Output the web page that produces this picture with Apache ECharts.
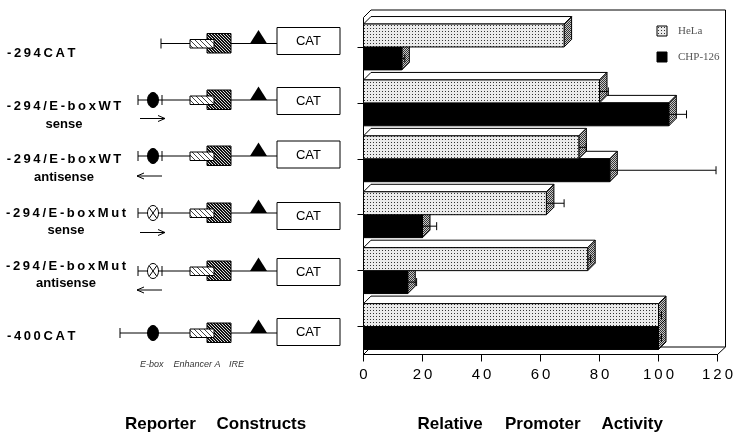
<!DOCTYPE html>
<html>
<head>
<meta charset="utf-8">
<script src="https://cdn.jsdelivr.net/npm/echarts@6/dist/echarts.min.js"></script>
<style>
  html, body { margin: 0; padding: 0; background: #fff; }
  #chart { width: 739px; height: 441px; }
</style>
</head>
<body>
<div id="chart"></div>
<script>
// data
const constructs = ['-294CAT', '-294/E-boxWT\nsense', '-294/E-boxWT\nantisense', '-294/E-boxMut\nsense', '-294/E-boxMut\nantisense', '-400CAT']
const helaValues = [68, 80, 73, 62, 76, 100]
const helaErrors = [0, 3, 2.5, 6, 1, 1]
const chpValues = [13, 103.5, 83.5, 20, 15, 100]
const chpErrors = [1, 6, 36, 4.8, 3, 1]
const seriesNames = ['HeLa', 'CHP-126']
const axisMin = 0
const axisMax = 120
const axisStep = 20

// schematic layout (left panel)
const eboxKind = ['none', 'wt', 'wt', 'mut', 'mut', 'wt']
const arrowKind = ['', 'sense', 'antisense', 'sense', 'antisense', '']
const lineY = [43.5, 100, 156, 213, 271, 333]
const catTop = [27.5, 87.5, 141, 202.5, 258.5, 318.5]
const arrowY = [0, 118.5, 176, 232.5, 290, 0]
const labelY = [[53], [106.5, 124], [159, 177], [213, 230], [266, 283], [336.5]]

const DX = 7.5, DY = -7.5
const GL = 363.5, GR = 717.5, GT = 19, GB = 354.5

const spaced = s => s.split('').join('\u2009')

const makeCanvas = (w, h, draw) => {
  const c = document.createElement('canvas')
  c.width = w
  c.height = h
  draw(c.getContext('2d'))
  return c
}

// stipple for HeLa front
const stipple = makeCanvas(3, 3, ctx => {
  ctx.fillStyle = '#ebebeb'; ctx.fillRect(0, 0, 3, 3)
  ctx.fillStyle = '#333'; ctx.fillRect(1, 1, 1, 1)
})
// side face
const sideTex = makeCanvas(2, 2, ctx => {
  ctx.fillStyle = '#c8c8c8'; ctx.fillRect(0, 0, 2, 2)
  ctx.fillStyle = '#333'; ctx.fillRect(0, 0, 1, 1); ctx.fillRect(1, 1, 1, 1)
})
const hatch = (bg, fg, n) => makeCanvas(n, n, ctx => {
  ctx.fillStyle = bg; ctx.fillRect(0, 0, n, n)
  ctx.fillStyle = fg
  for (let i = 0; i < n; i++) ctx.fillRect(i, i, 1, 1)
})
const lightHatch = hatch('#fff', '#444', 5)
const darkHatch = hatch('#111', '#ddd', 3)

const helaFill = { image: stipple, repeat: 'repeat' }
const sideFill = { image: sideTex, repeat: 'repeat' }

const bar3d = (upper, front) => (params, api) => {
  const cat = api.value(1)
  const v = api.value(0)
  const err = api.value(2)
  const base = api.coord([0, cat])
  const end = api.coord([v, cat])
  const h = api.size([0, 1])[1] * 0.41
  const y0 = upper ? base[1] - h : base[1]
  const y1 = y0 + h
  const x0 = base[0], x1 = end[0]
  const st = { stroke: '#000', lineWidth: 1 }
  const children = [
    { type: 'polygon', shape: { points: [[x0, y0], [x1, y0], [x1 + DX, y0 + DY], [x0 + DX, y0 + DY]] },
      style: Object.assign({ fill: '#fff' }, st) },
    { type: 'polygon', shape: { points: [[x1, y0], [x1 + DX, y0 + DY], [x1 + DX, y1 + DY], [x1, y1]] },
      style: Object.assign({ fill: sideFill }, st) },
    { type: 'rect', shape: { x: x0, y: y0, width: x1 - x0, height: h },
      style: Object.assign({ fill: front }, st) }
  ]
  if (err > 0) {
    const xe = api.coord([v + err, cat])[0]
    const ym = (y0 + y1) / 2
    children.push({ type: 'line', shape: { x1: x1, y1: ym, x2: xe, y2: ym }, style: st })
    children.push({ type: 'line', shape: { x1: xe, y1: ym - 4, x2: xe, y2: ym + 4 }, style: st })
  }
  return { type: 'group', children }
}

// left panel graphics
const graphics = []
const line = (x1, y1, x2, y2, w) => graphics.push({ type: 'line', shape: { x1, y1, x2, y2 }, style: { stroke: '#000', lineWidth: w || 1 } })

constructs.forEach((name, i) => {
  const y = lineY[i]
  const startX = eboxKind[i] === 'none' ? 161 : (i === 5 ? 120 : 138)
  line(startX, y, 277, y)
  line(startX, y - 5, startX, y + 5)
  if (eboxKind[i] !== 'none') {
    const mut = eboxKind[i] === 'mut'
    graphics.push({ type: 'ellipse', shape: { cx: 153, cy: y, rx: 5.5, ry: 7.5 },
      style: { fill: mut ? '#fff' : '#000', stroke: '#000', lineWidth: 1 } })
    if (mut) {
      line(149.2, y - 5.3, 156.8, y + 5.3)
      line(149.2, y + 5.3, 156.8, y - 5.3)
    }
    if (i !== 5) line(162, y - 5, 162, y + 5)
  }
  graphics.push({ type: 'rect', shape: { x: 207, y: y - 10, width: 24, height: 19.5 },
    style: { fill: { image: darkHatch, repeat: 'repeat' }, stroke: '#000', lineWidth: 1 } })
  graphics.push({ type: 'rect', shape: { x: 190, y: y - 4, width: 24, height: 8.5 },
    style: { fill: { image: lightHatch, repeat: 'repeat' }, stroke: '#000', lineWidth: 1 } })
  graphics.push({ type: 'polygon', shape: { points: [[250, y], [267, y], [258.5, y - 13.5]] },
    style: { fill: '#000' } })
  graphics.push({ type: 'rect', shape: { x: 277, y: catTop[i], width: 63, height: 27 },
    style: { fill: '#fff', stroke: '#000', lineWidth: 1 } })
  graphics.push({ type: 'text', x: 308.5, y: catTop[i] + 14, style: { text: 'CAT', fontSize: 13,
    fontFamily: 'Liberation Sans, Arial, sans-serif', fill: '#000', align: 'center', verticalAlign: 'middle' } })

  if (arrowKind[i]) {
    const ay = arrowY[i]
    if (arrowKind[i] === 'sense') {
      line(140, ay, 165, ay)
      line(165, ay, 158, ay - 3)
      line(165, ay, 158, ay + 3)
    } else {
      line(137, ay, 162, ay)
      line(137, ay, 144, ay - 3)
      line(137, ay, 144, ay + 3)
    }
  }

  const parts = name.split('\n')
  const font = { fontSize: 13, fontWeight: 'bold', fontFamily: 'Liberation Sans, Arial, sans-serif', fill: '#000', verticalAlign: 'middle' }
  if (parts.length === 1) {
    graphics.push({ type: 'text', x: 7, y: labelY[i][0], style: Object.assign({ text: spaced(parts[0]), align: 'left' }, font) })
  } else {
    const cx = parts[0].indexOf('Mut') > 0 ? 66 : 64
    graphics.push({ type: 'text', x: cx, y: labelY[i][0], style: Object.assign({ text: spaced(parts[0]), align: 'center' }, font) })
    graphics.push({ type: 'text', x: cx, y: labelY[i][1], style: Object.assign({ text: parts[1], align: 'center' }, font) })
  }
})

const smallItalic = { fontSize: 9, fontStyle: 'italic', fontFamily: 'Liberation Sans, Arial, sans-serif', fill: '#333', verticalAlign: 'middle' }
;[['E-box', 140], ['Enhancer A', 173.5], ['IRE', 229]].forEach(([t, x]) => {
  graphics.push({ type: 'text', x: x, y: 364, style: Object.assign({ text: t }, smallItalic) })
})

const titleFont = { fontSize: 17, fontWeight: 'bold', fontFamily: 'Liberation Sans, Arial, sans-serif', fill: '#000', verticalAlign: 'middle' }
;[['Reporter', 125], ['Constructs', 216.5], ['Relative', 417.5], ['Promoter', 505], ['Activity', 601.5]].forEach(([t, x]) => {
  graphics.push({ type: 'text', x: x, y: 424, style: Object.assign({ text: t }, titleFont) })
})

// 3D box frame of the plot
graphics.push({ type: 'polyline', z: -1, shape: { points: [[GL, GT], [GL, GT - 1.5], [GL + DX, GT - 1.5 + DY], [GR + 8, GT - 1.5 + DY], [GR + 8, GB + DY]] },
  style: { stroke: '#000', lineWidth: 1, fill: null } })
graphics.push({ type: 'polygon', z: -1, shape: { points: [[GL, GB], [GR, GB], [GR + 8, GB + DY], [GL + DX, GB + DY]] },
  style: { fill: '#fff', stroke: '#000', lineWidth: 1 } })

const chart = echarts.init(document.getElementById('chart'))

chart.setOption({
  animation: false,
  backgroundColor: '#fff',
  grid: { left: GL, right: 739 - GR, top: GT, bottom: 441 - GB },
  legend: {
    data: seriesNames,
    orient: 'vertical',
    left: 651.5,
    top: 20,
    itemWidth: 10,
    itemHeight: 10,
    itemGap: 14,
    icon: 'rect',
    selectedMode: false,
    itemStyle: { borderColor: '#000', borderWidth: 1 },
    textStyle: { fontFamily: 'Liberation Serif, Times New Roman, serif', fontSize: 11, color: '#555', padding: [0, 0, 0, 6], lineHeight: 12 }
  },
  xAxis: {
    type: 'value',
    min: axisMin,
    max: axisMax,
    interval: axisStep,
    axisLine: { show: true, lineStyle: { color: '#000', width: 1 } },
    axisTick: { show: true, length: 7, lineStyle: { color: '#000' } },
    splitLine: { show: false },
    axisLabel: {
      margin: 13,
      fontSize: 15,
      color: '#000',
      fontFamily: 'Liberation Sans, Arial, sans-serif',
      formatter: v => spaced(String(v))
    }
  },
  yAxis: {
    type: 'category',
    data: constructs,
    inverse: true,
    axisLine: { show: true, lineStyle: { color: '#000', width: 1 } },
    axisTick: { show: true, alignWithLabel: true, length: 6, lineStyle: { color: '#000' } },
    axisLabel: { show: false }
  },
  series: [
    {
      name: seriesNames[1],
      type: 'custom',
      clip: false,
      z: 3,
      itemStyle: { color: '#000' },
      encode: { x: 0, y: 1 },
      data: chpValues.map((v, i) => [v, i, chpErrors[i]]),
      renderItem: bar3d(false, '#000')
    },
    {
      name: seriesNames[0],
      type: 'custom',
      clip: false,
      z: 4,
      itemStyle: { color: helaFill },
      encode: { x: 0, y: 1 },
      data: helaValues.map((v, i) => [v, i, helaErrors[i]]),
      renderItem: bar3d(true, helaFill)
    }
  ],
  graphic: graphics
})
</script>
</body>
</html>
